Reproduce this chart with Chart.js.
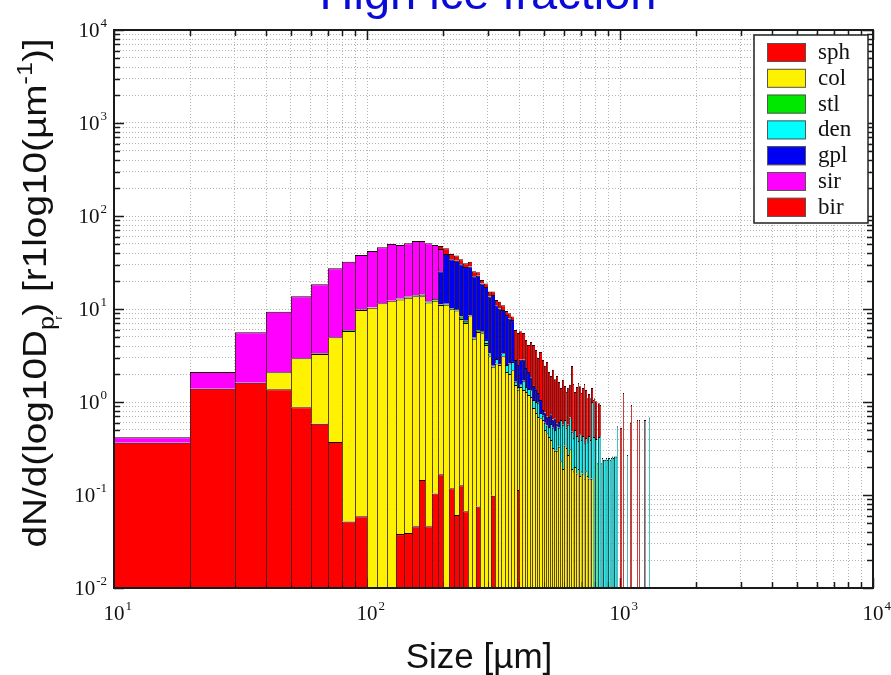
<!DOCTYPE html>
<html>
<head>
<meta charset="utf-8">
<script src="https://cdn.jsdelivr.net/npm/chart.js@4/dist/chart.umd.min.js"></script>
<style>
  html, body { margin: 0; padding: 0; background: #ffffff; overflow: hidden; }
  #wrap { position: relative; width: 891px; height: 675px; }
</style>
</head>
<body>
<div id="wrap"><canvas id="c" width="891" height="675"></canvas></div>
<script>
// Lower edge of each 10 µm size bin
const sizeBins = [
  10,20,30,40,50,60,70,80,90,100,110,120,130,140,150,160,170,180,190,200,
  210,220,230,240,250,260,270,280,290,300,310,320,330,340,350,360,370,380,390,400,
  410,420,430,440,450,460,470,480,490,500,510,520,530,540,550,560,570,580,590,600,
  610,620,630,640,650,660,670,680,690,700,710,720,730,740,750,760,770,780,790,800,
  810,820,830,840,850,860,870,880,890,900,910,920,930,940,950,960,970,980,990,1000,
  1010,1020,1030,1040,1050,1060,1070,1080,1090,1100,1110,1120,1130,1140,1150,1160,1170,1180,1190,1200,
  1210,1220,1230,1240,1250,1260,1270,1280,1290,1300
];
const binWidth = 10;

// dN/dlog10(D) per habit class (0 = empty bin)
const sph = [
  0.365,1.39,1.61,1.37,0.877,0.584,0.371,0.052,0.059,0,
  0,0,0.038,0.039,0.046,0.145,0.046,0.104,0.167,0,
  0.118,0.061,0.127,0.067,0,0,0.075,0,0,0,
  0.098,0,0,0,0,0,0,0,0.113,0,
  0,0,0,0,0,0,0,0,0,0, 0,0,0,0,0,0,0,0,0,0, 0,0,0,0,0,0,0,0,0,0,
  0,0,0,0,0,0,0,0,0,0, 0,0,0,0,0,0,0,0,0,0, 0,0,0,0,0,0,0,0,0,0,
  0,0,0,0,0,0,0,0,0,0, 0,0,0,0,0,0,0,0,0,0, 0,0,0,0,0,0,0,0,0,0
];
const col = [
  0,0,0,0.72,2.07,2.7,4.59,5.75,9.7,10.3,
  11.5,12.3,12.6,13.2,13.7,13.6,11.7,12.2,10.9,11.1,
  9.8,9.6,7.67,7.0,8.5,4.8,5.6,5.5,4.1,3.1,
  2.3,2.6,2.5,3.1,2.1,2.0,2.2,1.52,1.24,1.45,
  1.35,1.28,1.19,1.13,0.86,0.76,0.69,0.67,0.64,0.50,
  0.46,0.42,0.39,0.32,0.30,0.30,0.33,0.23,0.19,0.34,
  0.32,0.27,0.31,0.19,0.18,0.20,0.17,0.19,0.16,0.18,
  0.17,0.15,0.18,0.16,0.15,0.15,0.15,0,0,0,
  0.22,0,0,0,0,0,0,0,0,0, 0,0,0,0,0,0,0,0,0,0,
  0,0,0,0,0,0,0,0,0,0, 0,0,0,0,0,0,0,0,0,0, 0,0,0,0,0,0,0,0,0,0
];
const stl = [
  0,0,0,0,0,0.05,0,0.15,0.15,0.1,
  0,0,0.3,0.3,0.3,0.5,0.4,0.5,0.2,0.3,
  0.3,0.35,0.5,0.4,0.1,0.1,0.25,0.25,0.2,0,
  0.05,0,0,0,0,0,0,0,0,0,
  0,0,0,0,0,0,0,0,0,0, 0,0,0,0,0,0,0,0,0,0, 0,0,0,0,0,0,0,0,0,0,
  0,0,0,0,0,0,0,0,0,0, 0,0,0,0,0,0,0,0,0,0, 0,0,0,0,0,0,0,0,0,0,
  0,0,0,0,0,0,0,0,0,0, 0,0,0,0,0,0,0,0,0,0, 0,0,0,0,0,0,0,0,0,0
];
const den = [
  0,0,0,0,0,0,0,0,0,0,
  0,0,0,0,0,0,0,0,0,0,
  0,0,0,0,0,0,0,0,0.35,0.22,
  0,0.3,0.05,0.25,0.4,0.6,0.5,0.13,0.10,0.10,
  0.34,0.17,0.19,0.21,0.19,0.24,0.29,0.09,0.07,0.10,
  0.10,0.12,0.19,0.21,0.20,0.25,0.20,0.41,0.38,0.30,
  0.21,0.30,0.37,0.29,0.23,0.30,0.26,0.19,0.29,0.21,
  0.26,0.21,0.23,0.21,0.28,0.24,0.85,0.42,0.42,0.40,
  0,0.42,0.44,0.22,0.25,0.24,0.24,0.25,0.24,0.25,
  0.24,0.25,0.26,0.25,0.26,0.26,0.55,0,0,0,
  0,0,0,0,0,0,0.27,0,0,0,
  0,0,0,0,0,0,0,0,0,0,
  0,0,0,0,0,0.64,0,0,0,0.68
];
const gpl = [
  0,0,0,0,0,0,0,0,0,0,
  0,0,0,0,0,0,0,0,14.2,27.6,
  24.1,23.0,21.9,20.9,20.1,17.6,16.9,13.0,12.6,10.3,
  11.7,8.1,7.6,6.4,6.1,5.3,4.9,1.18,1.05,1.3,
  1.15,0.87,0.72,0.51,0.44,0.35,0.27,0.29,0.11,0.17,
  0.14,0.15,0.16,0.12,0.17,0.04,0.08,0,0,0,
  0,0,0,0,0,0,0,0,0,0, 0,0,0,0,0,0,0,0,0,0, 0,0,0,0,0,0,0,0,0,0,
  0,0,0,0,0,0,0,0,0,0, 0,0,0,0,0,0,0,0,0,0, 0,0,0,0,0,0,0,0,0,0,
  0,0,0,0,0,0,0,0,0,0
];
const sir = [
  0.052,0.71,4.0,7.26,10.75,15.1,22.4,26.3,28.2,31.6,
  34.6,37.7,35.9,37.4,39.8,39.5,38.7,36.0,18.7,0,
  0,0,0,0,0,0,0,0,0,0, 0,0,0,0,0,0,0,0,0,0, 0,0,0,0,0,0,0,0,0,0,
  0,0,0,0,0,0,0,0,0,0, 0,0,0,0,0,0,0,0,0,0, 0,0,0,0,0,0,0,0,0,0,
  0,0,0,0,0,0,0,0,0,0, 0,0,0,0,0,0,0,0,0,0, 0,0,0,0,0,0,0,0,0,0,
  0,0,0,0,0,0,0,0,0,0, 0,0,0,0,0,0,0,0,0,0
];
const bir = [
  0,0,0,0,0,0,0,0,0,0,
  0,0,0,0,0,0,0,0,3.4,6.0,
  4.7,4.5,4.1,2.7,3.6,2.9,2.0,1.7,1.5,1.8,
  1.3,1.5,1.8,1.25,0.9,1.1,0.7,3.12,3.0,2.9,
  2.69,2.32,2.0,2.56,2.61,2.28,1.72,2.40,2.01,1.68,
  1.99,1.41,1.16,1.57,1.09,1.31,1.03,0.77,1.16,0.85,
  0.76,0.85,0.85,1.96,1.15,0.78,1.02,1.22,1.03,0.86,
  0.98,1.20,0.94,0.73,0.79,0.71,0.41,0.63,0.68,0.62,
  0,0.55,0.49,0,0,0,0,0,0,0,
  0,0,0,0,0,0,0,0,0,0.53,
  0.53,0,1.25,0,0,0,0,0,0,0.60,
  0.93,0,0,0,0,0,0.64,0,0.64,0,
  0,0,0,0.64,0,0,0,0,0,0
];

const speciesNames = ['sph', 'col', 'stl', 'den', 'gpl', 'sir', 'bir'];
const speciesValues = [sph, col, stl, den, gpl, sir, bir];
const speciesColors = ['#ff0000', '#fff200', '#00e800', '#00ffff', '#0000f2', '#ff00ff', '#ff0000'];

// Decade exponents labelled on each axis
const xDecades = [1, 2, 3, 4];
const yDecades = [-2, -1, 0, 1, 2, 3, 4];

// Bars span their bin edges on the logarithmic size axis (edges snapped to whole pixels)
class HistogramController extends Chart.BarController {
  _calculateBarIndexPixels(index) {
    const xs = this._cachedMeta.iScale;
    const left = Math.round(xs.getPixelForValue(sizeBins[index]));
    const right = Math.round(xs.getPixelForValue(sizeBins[index] + binWidth));
    return { base: left, head: right, center: (left + right) / 2, size: right - left };
  }
}
HistogramController.id = 'histogram';
Chart.register(HistogramController);

function logGridValues(decades) {
  const out = [];
  for (let k = 0; k < decades.length - 1; k++) {
    for (let m = 1; m <= 9; m++) out.push(m * Math.pow(10, decades[k]));
  }
  out.push(Math.pow(10, decades[decades.length - 1]));
  return out;
}

function drawPower(ctx, exp, x, y, mode) {
  const base = '10', sup = String(exp);
  ctx.font = '21px "Liberation Serif"';
  const wb = ctx.measureText(base).width;
  ctx.font = '13px "Liberation Serif"';
  const ws = ctx.measureText(sup).width;
  const x0 = mode === 'right' ? x - wb - ws - 1 : x - wb / 2;
  ctx.fillStyle = '#111';
  ctx.textAlign = 'left';
  ctx.textBaseline = 'alphabetic';
  ctx.font = '21px "Liberation Serif"';
  ctx.fillText(base, x0, y);
  ctx.font = '13px "Liberation Serif"';
  ctx.fillText(sup, x0 + wb + 1, y - 10);
}

function drawRuns(ctx, runs) {
  let total = 0;
  runs.forEach(r => { ctx.font = r.size + 'px "Liberation Sans"'; r.w = ctx.measureText(r.t).width; total += r.w + (r.dx || 0); });
  let x = -total / 2;
  runs.forEach(r => {
    ctx.font = r.size + 'px "Liberation Sans"';
    x += (r.dx || 0);
    ctx.fillText(r.t, x, r.dy);
    x += r.w;
  });
}

const decorations = {
  id: 'decorations',
  beforeDatasetsDraw(chart) {
    const { ctx, chartArea: a, scales: { x, y } } = chart;
    ctx.save();
    ctx.strokeStyle = '#1a1a1a';
    ctx.lineWidth = 1.5;
    ctx.beginPath();
    logGridValues(xDecades).forEach(v => {
      const px = Math.round(x.getPixelForValue(v)) + 0.5;
      const major = Math.abs(Math.log10(v) - Math.round(Math.log10(v))) < 1e-9;
      const len = major ? 10 : 6;
      ctx.moveTo(px, a.bottom); ctx.lineTo(px, a.bottom - len);
      ctx.moveTo(px, a.top); ctx.lineTo(px, a.top + len);
    });
    logGridValues(yDecades).forEach(v => {
      const py = Math.round(y.getPixelForValue(v)) + 0.5;
      const major = Math.abs(Math.log10(v) - Math.round(Math.log10(v))) < 1e-9;
      const len = major ? 10 : 6;
      ctx.moveTo(a.left, py); ctx.lineTo(a.left + len, py);
      ctx.moveTo(a.right, py); ctx.lineTo(a.right - len, py);
    });
    ctx.stroke();
    ctx.restore();
  },
  afterDatasetsDraw(chart) {
    const { ctx, chartArea: a } = chart;
    ctx.save();
    // plot frame
    ctx.strokeStyle = '#1a1a1a';
    ctx.lineWidth = 2;
    ctx.strokeRect(a.left, a.top, a.right - a.left, a.bottom - a.top);

    // legend box
    const lx = 754, ly = 35, lw = 114, lh = 188;
    ctx.fillStyle = '#ffffff';
    ctx.fillRect(lx, ly, lw, lh);
    ctx.lineWidth = 1.5;
    ctx.strokeStyle = '#222';
    ctx.strokeRect(lx, ly, lw, lh);
    chart.data.datasets.forEach((ds, k) => {
      const sy = 43 + k * 25.8;
      ctx.fillStyle = ds.backgroundColor;
      ctx.fillRect(767, sy, 39, 19);
      ctx.lineWidth = 1;
      ctx.strokeStyle = '#555';
      ctx.strokeRect(767.5, sy + 0.5, 38, 18);
      ctx.fillStyle = '#111';
      ctx.font = '23px "Liberation Serif"';
      ctx.textAlign = 'left';
      ctx.textBaseline = 'alphabetic';
      ctx.fillText(ds.label, 818, sy + 16);
    });
    ctx.restore();
  },
  afterDraw(chart) {
    const { ctx, scales: { x, y } } = chart;
    ctx.save();
    xDecades.forEach(e => drawPower(ctx, e, x.getPixelForValue(Math.pow(10, e)), 620, 'center'));
    yDecades.forEach(e => drawPower(ctx, e, 107, y.getPixelForValue(Math.pow(10, e)) + 7, 'right'));

    // axis titles
    ctx.fillStyle = '#111';
    ctx.textAlign = 'center';
    ctx.textBaseline = 'alphabetic';
    ctx.font = '35px "Liberation Sans"';
    ctx.fillText('Size [\u00b5m]', 479, 668);

    ctx.save();
    ctx.translate(46, 293);
    ctx.rotate(-Math.PI / 2);
    ctx.scale(1.14, 1);
    ctx.textAlign = 'left';
    drawRuns(ctx, [
      { t: 'dN/d(log10D', size: 34, dy: 0 },
      { t: 'p', size: 22, dy: 8 },
      { t: 'r', size: 10, dy: 16, dx: -3 },
      { t: ') [r1log10(\u00b5m', size: 34, dy: 0 },
      { t: '-1', size: 22, dy: -14 },
      { t: ')]', size: 34, dy: 0 }
    ]);
    ctx.restore();

    // chart title, partly above the canvas edge
    ctx.fillStyle = '#0a0ad8';
    ctx.font = '47px "Liberation Sans"';
    ctx.textAlign = 'center';
    ctx.fillText('High ice fraction', 488, 9);
    ctx.restore();
  }
};

const datasets = speciesNames.map((name, k) => ({
  label: name,
  data: sizeBins.map((d, i) => ({ x: d + binWidth / 2, y: speciesValues[k][i] > 0 ? speciesValues[k][i] : null })),
  backgroundColor: speciesColors[k],
  borderColor: '#1a0000',
  borderWidth: { left: 0.85, top: 1, right: 0, bottom: 0 },
  borderSkipped: false,
  inflateAmount: 0,
  stack: 'habit'
}));

const gridStyle = { display: true, drawTicks: false, color: '#b4b4b4', lineWidth: 1 };

new Chart(document.getElementById('c'), {
  type: 'histogram',
  data: { datasets },
  options: {
    responsive: false,
    animation: false,
    events: [],
    layout: { padding: { left: 114, top: 30, right: 18, bottom: 87 } },
    plugins: { legend: { display: false }, tooltip: { enabled: false }, title: { display: false } },
    scales: {
      x: {
        type: 'logarithmic', min: 10, max: 10000, offset: false,
        ticks: { display: false },
        grid: Object.assign({ offset: false }, gridStyle),
        border: { display: false, dash: [1, 2] },
        afterBuildTicks: s => { s.ticks = logGridValues(xDecades).map(v => ({ value: v })); }
      },
      y: {
        type: 'logarithmic', min: 0.01, max: 10000, stacked: true,
        ticks: { display: false },
        grid: gridStyle,
        border: { display: false, dash: [1, 2] },
        afterBuildTicks: s => { s.ticks = logGridValues(yDecades).map(v => ({ value: v })); }
      }
    }
  },
  plugins: [decorations]
});
</script>
</body>
</html>
